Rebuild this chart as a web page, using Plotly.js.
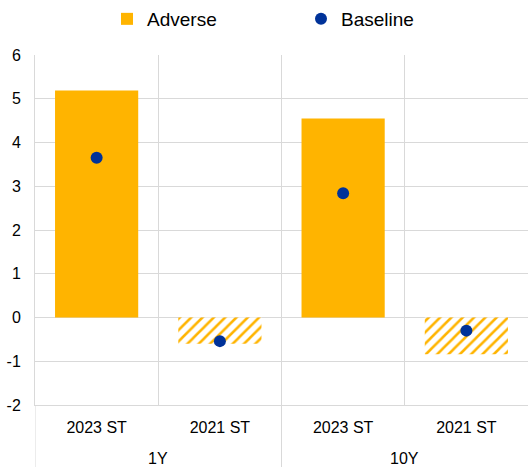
<!DOCTYPE html>
<html>
<head>
<meta charset="utf-8">
<script src="https://cdn.plot.ly/plotly-3.0.1.min.js"></script>
<style>html,body{margin:0;padding:0;background:#fff;}#chart{width:528px;height:467px;}</style>
</head>
<body>
<div id="chart"></div>
<script>
const horizons = ['1Y', '1Y', '10Y', '10Y'];
const exercises = ['2023 ST', '2021 ST', '2023 ST', '2021 ST'];
const adverse = [5.19, -0.60, 4.55, -0.84];
const baseline = [3.65, -0.54, 2.84, -0.30];
const hatched = ['', '/', '', '/'];
const yTicks = [-2, -1, 0, 1, 2, 3, 4, 5, 6];

const ORANGE = '#FFB400';
const BLUE = '#003299';
const GRID = '#d9d9d9';
const FONT = 'Liberation Sans, Arial, sans-serif';

// category positions on the axis
const xIdx = exercises.map((_, i) => i);
// inner boundaries between categories (the right edge has no line)
const boundaries = xIdx.map(i => i - 0.5);

// groups (horizons) and their extents
const groups = [];
horizons.forEach((h, i) => {
  const g = groups.find(o => o.name === h);
  if (g) { g.end = i; } else { groups.push({name: h, start: i, end: i}); }
});

const PLOT_H = 467 - 55 - 62;
const shapes = groups.map(g => ({
  type: 'line', xref: 'x', yref: 'paper',
  x0: g.start - 0.5, x1: g.start - 0.5, y0: 0, y1: -62 / PLOT_H,
  line: {color: GRID, width: 1}
}));

const annotations = groups.map(g => ({
  xref: 'x', yref: 'paper',
  x: (g.start + g.end) / 2, y: -53 / PLOT_H,
  text: g.name, showarrow: false,
  xanchor: 'center', yanchor: 'middle',
  font: {family: FONT, size: 16, color: '#000000'}
}));

const data = [
  {
    type: 'bar',
    name: 'Adverse',
    x: xIdx,
    y: adverse,
    width: 0.675,
    marker: {
      color: ORANGE,
      line: {width: 0},
      pattern: {shape: hatched, fgcolor: ORANGE, bgcolor: '#ffffff', size: 8, solidity: 0.32}
    },
    hoverinfo: 'skip'
  },
  {
    type: 'scatter',
    mode: 'markers',
    name: 'Baseline',
    x: xIdx,
    y: baseline,
    marker: {color: BLUE, size: 12, symbol: 'circle'},
    hoverinfo: 'skip'
  }
];

const layout = {
  width: 528,
  height: 467,
  margin: {l: 35, r: 0, t: 55, b: 62},
  paper_bgcolor: '#ffffff',
  plot_bgcolor: '#ffffff',
  font: {family: FONT, size: 16, color: '#000000'},
  showlegend: true,
  legend: {
    orientation: 'h',
    xref: 'container', yref: 'container',
    x: 107 / 528, y: 1, xanchor: 'left', yanchor: 'top',
    entrywidth: 149, entrywidthmode: 'pixels',
    font: {family: FONT, size: 19, color: '#000000'},
    bgcolor: 'rgba(0,0,0,0)'
  },
  xaxis: {
    type: 'linear',
    range: [-0.5, xIdx.length - 0.5],
    tickvals: xIdx,
    ticktext: exercises,
    showgrid: false,
    minor: {tickmode: 'array', tickvals: boundaries, showgrid: true, gridcolor: GRID, gridwidth: 1, ticks: ''},
    showline: true,
    linecolor: GRID,
    linewidth: 1,
    ticks: '',
    ticklabelstandoff: 8,
    tickfont: {family: FONT, size: 16, color: '#000000'},
    zeroline: false,
    fixedrange: true
  },
  yaxis: {
    range: [-2, 6],
    tickvals: yTicks,
    ticktext: yTicks.map(String),
    showgrid: true,
    gridcolor: GRID,
    gridwidth: 1,
    zeroline: false,
    showline: true,
    linecolor: GRID,
    linewidth: 1,
    ticks: '',
    ticklabelstandoff: 10,
    tickfont: {family: FONT, size: 16, color: '#000000'},
    fixedrange: true
  },
  shapes: shapes,
  annotations: annotations,
  barmode: 'overlay'
};

Plotly.newPlot('chart', data, layout, {staticPlot: true, displayModeBar: false});
</script>
</body>
</html>
